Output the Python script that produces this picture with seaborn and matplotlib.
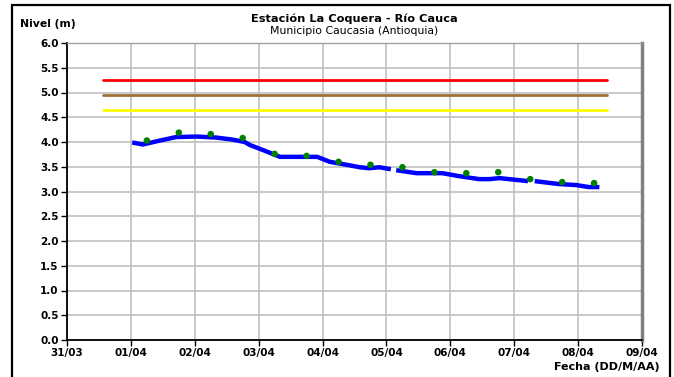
import matplotlib
matplotlib.use("Agg")
import matplotlib.pyplot as plt
import matplotlib.dates as mdates
from matplotlib.patches import Rectangle
import seaborn as sns
import pandas as pd

# ---------------- data ----------------
level_times = [
    "2011-04-01 00:30", "2011-04-01 04:30", "2011-04-01 11:00", "2011-04-01 17:00",
    "2011-04-02 00:45", "2011-04-02 08:00", "2011-04-02 14:00", "2011-04-02 18:45",
    "2011-04-02 20:40", "2011-04-03 01:30", "2011-04-03 08:00", "2011-04-03 22:00",
    "2011-04-04 02:40", "2011-04-04 09:00", "2011-04-04 14:00", "2011-04-04 17:30",
    "2011-04-04 21:20", "2011-04-05 01:40",
    "2011-04-05 03:40", "2011-04-05 11:20", "2011-04-05 21:00", "2011-04-06 03:20",
    "2011-04-06 10:50", "2011-04-06 14:40", "2011-04-06 18:30", "2011-04-07 05:10",
    "2011-04-07 07:40", "2011-04-07 16:50", "2011-04-07 23:15", "2011-04-08 04:00",
    "2011-04-08 08:00",
]
level_values = [
    3.99, 3.95, 4.03, 4.10, 4.11, 4.09, 4.05, 4.00, 3.94, 3.84, 3.70, 3.70,
    3.60, 3.54, 3.49, 3.47, 3.49, 3.45,
    3.43, 3.37, 3.37, 3.31, 3.25, 3.25, 3.27, 3.21,
    3.21, 3.15, 3.13, 3.09, 3.09,
]
level_segments = [1] * 18 + [2] * 8 + [3] * 5

obs_times = [
    "2011-04-01 06:00", "2011-04-01 18:00", "2011-04-02 06:00", "2011-04-02 18:00",
    "2011-04-03 06:00", "2011-04-03 18:00", "2011-04-04 06:00", "2011-04-04 18:00",
    "2011-04-05 06:00", "2011-04-05 18:00", "2011-04-06 06:00", "2011-04-06 18:00",
    "2011-04-07 06:00", "2011-04-07 18:00", "2011-04-08 06:00",
]
obs_values = [4.03, 4.19, 4.16, 4.08, 3.76, 3.72, 3.60, 3.54, 3.49, 3.39,
              3.37, 3.39, 3.25, 3.19, 3.17]

threshold_names = ["rojo", "naranja", "amarillo"]
threshold_values = [5.25, 4.95, 4.65]
threshold_colors = ["#FF0000", "#A0703A", "#FFFF00"]
threshold_start = "2011-03-31 13:30"
threshold_end = "2011-04-08 10:45"

y_ticks = [0.0, 0.5, 1.0, 1.5, 2.0, 2.5, 3.0, 3.5, 4.0, 4.5, 5.0, 5.5, 6.0]
x_start = "2011-03-31 00:00"
x_end = "2011-04-09 00:00"

title = "Estación La Coquera - Río Cauca"
subtitle = "Municipio Caucasia (Antioquia)"
ylabel = "Nivel (m)"
xlabel = "Fecha (DD/M/AA)"

# ---------------- frames ----------------
df_level = pd.DataFrame({"fecha": pd.to_datetime(level_times),
                         "nivel": level_values, "tramo": level_segments})
df_obs = pd.DataFrame({"fecha": pd.to_datetime(obs_times), "nivel": obs_values})
rows = []
for n, v in zip(threshold_names, threshold_values):
    rows.append({"fecha": pd.Timestamp(threshold_start), "nivel": v, "umbral": n})
    rows.append({"fecha": pd.Timestamp(threshold_end), "nivel": v, "umbral": n})
df_thr = pd.DataFrame(rows)

# ---------------- plot ----------------
sns.set_theme(style="white")
plt.rcParams["font.family"] = ["DejaVu Sans"]

W, H = 674, 377
fig = plt.figure(figsize=(W / 100, H / 100), dpi=100)
L, R, T, B = 67, 642, 43, 340
ax = fig.add_axes([L / W, 1 - B / H, (R - L) / W, (B - T) / H])

sns.lineplot(data=df_thr, x="fecha", y="nivel", hue="umbral",
             palette=dict(zip(threshold_names, threshold_colors)),
             estimator=None, lw=2.0, legend=False, ax=ax, zorder=3)
sns.lineplot(data=df_level, x="fecha", y="nivel", units="tramo", estimator=None,
             color="#0000FF", lw=3.2, ax=ax, zorder=4, solid_capstyle="butt")
sns.scatterplot(data=df_obs, x="fecha", y="nivel", color="#008000", s=22,
                edgecolor="none", ax=ax, zorder=5)

ax.set_xlim(pd.Timestamp(x_start), pd.Timestamp(x_end))
ax.set_ylim(y_ticks[0], y_ticks[-1])
ax.set_yticks(y_ticks)
ax.set_yticklabels([f"{t:.1f}" for t in y_ticks])
ax.xaxis.set_major_locator(mdates.DayLocator())
ax.xaxis.set_major_formatter(mdates.DateFormatter("%d/%m"))
ax.set_xlabel("")
ax.set_ylabel("")

ax.grid(True, color="#C0C0C0", lw=1.2)
ax.set_axisbelow(True)
ax.tick_params(axis="both", which="major", direction="out", length=4, width=1,
               color="black", labelsize=7.5, bottom=True, left=True, pad=2,
               labelcolor="black")
for lbl in ax.get_xticklabels() + ax.get_yticklabels():
    lbl.set_fontweight("bold")

ax.spines["left"].set_color("black")
ax.spines["left"].set_linewidth(1.3)
ax.spines["bottom"].set_color("black")
ax.spines["bottom"].set_linewidth(1.3)
ax.spines["top"].set_color("#A0A0A0")
ax.spines["top"].set_linewidth(1.0)
ax.spines["right"].set_color("#808080")
ax.spines["right"].set_linewidth(2.5)

# text
cx = (L + R) / 2 / W
fig.text(cx, 1 - 18.5 / H, title, ha="center", va="center",
         fontsize=8.2, fontweight="bold", color="black")
fig.text(cx, 1 - 31.5 / H, subtitle, ha="center", va="center",
         fontsize=7.8, color="black")
fig.text(20 / W, 1 - 24 / H, ylabel, ha="left", va="center",
         fontsize=7.8, fontweight="bold", color="black")
fig.text(660 / W, 1 - 367 / H, xlabel, ha="right", va="center",
         fontsize=8, fontweight="bold", color="black")

# outer frame (bottom edge lies below the picture)
fig.patches.append(Rectangle((12 / W, -0.1), (670 - 12) / W, 1.1 - 4.5 / H,
                             transform=fig.transFigure, fill=False,
                             edgecolor="black", lw=1.6))

fig.savefig("out.png", dpi=100)
